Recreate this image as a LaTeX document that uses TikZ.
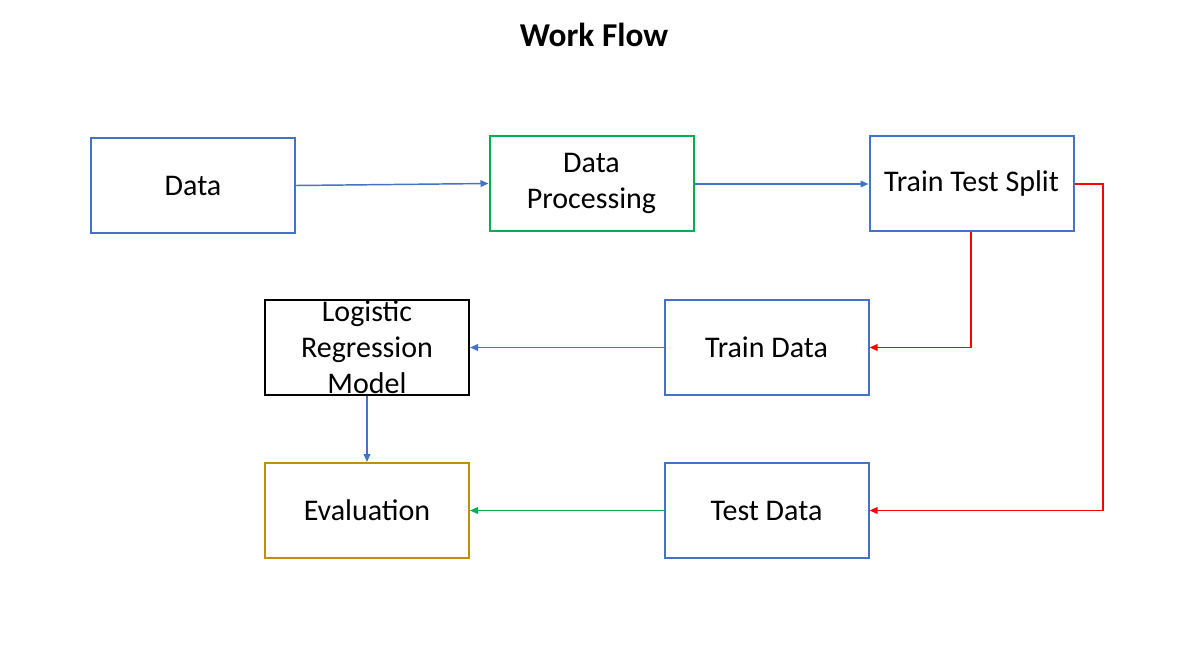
\documentclass[tikz,border=0pt]{standalone}
\usepackage{fontspec}
\setmainfont{Carlito}
\usetikzlibrary{arrows.meta}
\definecolor{cblue}{HTML}{4472C4}
\definecolor{cgreen}{HTML}{00B050}
\definecolor{cgold}{HTML}{BF9000}
\definecolor{cred}{HTML}{FF0000}
\begin{document}
\begin{tikzpicture}[x=0.75pt,y=-0.75pt,
  box/.style={draw=#1,line width=1.5pt,minimum width=153pt,minimum height=71.25pt,inner sep=0pt,align=center,
    font=\fontsize{22.5}{27}\selectfont},
  conn/.style={draw=#1,line width=1.1pt,-{Triangle[length=6pt,width=5pt]}}]
\useasboundingbox (0,0) rectangle (1181,657);
\node[font=\fontsize{25}{30}\selectfont\bfseries] (title) at (594,35) {Work Flow};
\node[box=cblue] (data) at (193,185.5) {Data};
\node[box=cgreen] (dp) at (591.5,183.5) {Data\\Processing};
\node[box=cblue] (tts) at (971.5,183.5) {Train Test Split};
\node[box=black] (lr) at (367,347.5) {Logistic\\Regression\\Model};
\node[box=cblue] (train) at (766.5,347.5) {Train Data};
\node[box=cgold] (eval) at (367,510.5) {Evaluation};
\node[box=cblue] (test) at (766.5,510.5) {Test Data};
\coordinate (r) at (1103,184);
\draw[conn=cblue] (data.east) -- (dp.west);
\draw[conn=cblue] ([yshift=-0.375pt]dp.east) -- ([yshift=-0.375pt]tts.west);
\draw[conn=cred] ([xshift=-0.375pt]tts.south) |- (train.east);
\draw[conn=cred] ([yshift=-0.375pt]tts.east) -- (r) |- (test.east);
\draw[conn=cblue] (train.west) -- (lr.east);
\draw[conn=cblue] (lr.south) -- (eval.north);
\draw[conn=cgreen] (test.west) -- (eval.east);
\end{tikzpicture}
\end{document}
